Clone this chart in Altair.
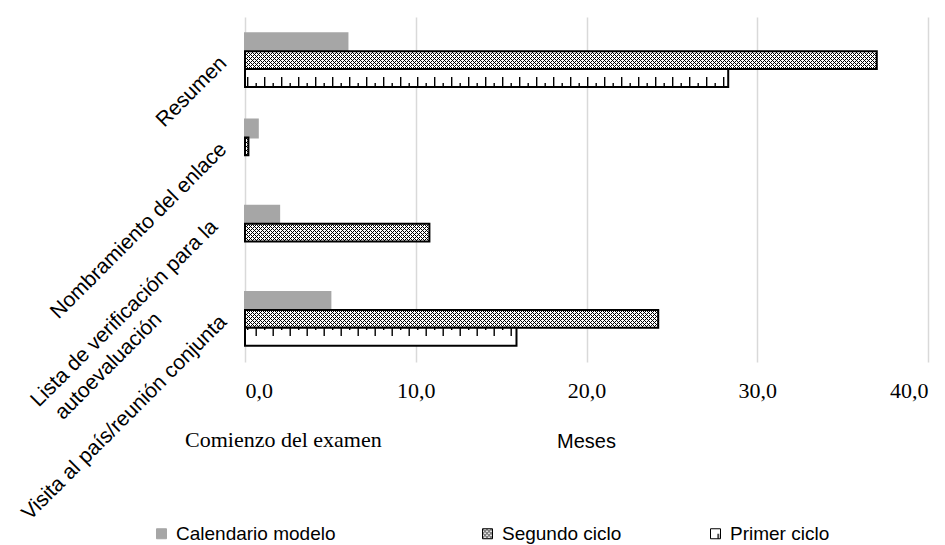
import jinja2
import pandas as pd
import altair as alt

# ---------------- data ----------------
categories = [
    "Resumen",
    "Nombramiento del enlace",
    "Lista de verificación para la autoevaluación",
    "Visita al país/reunión conjunta",
]
series = ["Calendario modelo", "Segundo ciclo", "Primer ciclo"]
calendario_modelo = [6.0, 0.75, 2.0, 5.0]
segundo_ciclo = [37.0, 0.2, 10.8, 24.2]
primer_ciclo = [28.3, None, None, 15.9]
x_ticks = [0, 10, 20, 30, 40]
x_title = "Meses"
note_text = ["Comienzo del examen"]

rows = []
for s, vals in zip(series, [calendario_modelo, segundo_ciclo, primer_ciclo]):
    for c, v in zip(categories, vals):
        rows.append({"categoria": c, "serie": s, "meses": v})
df = pd.DataFrame(rows)

NB = "\u00a0"
ZW = "\u200b"
SANS = "Liberation Sans"
SERIF = "Liberation Serif"

fill_range = ["#a6a6a6", "url(#pdots)", "url(#pvlines)"]
stroke_range = ["#a6a6a6", "#000000", "#000000"]

lista_test = "datum.value == '" + categories[2] + "'"
y_label_expr = (
    lista_test + " ? "
    "['Lista de verificación para la', 'autoevaluación" + NB * 18 + ZW + "'] : datum.value"
)
legend_label_expr = (
    "datum.label == '" + series[0] + "' ? '" + series[0] + NB * 25 + ZW + "' : "
    "datum.label == '" + series[1] + "' ? '" + series[1] + NB * 14 + ZW + "' : datum.label"
)

bars = alt.Chart(df).mark_bar(strokeWidth=2).encode(
    y=alt.Y(
        "categoria:N",
        sort=categories,
        scale=alt.Scale(paddingInner=0.374, paddingOuter=0.187),
        axis=alt.Axis(
            title=None,
            labelAngle=-45,
            labelAlign="right",
            labelBaseline="middle",
            labelFont=SANS,
            labelFontSize=21,
            labelColor="#000000",
            labelPadding={"condition": {"test": lista_test, "value": 31}, "value": 22},
            labelOffset={"condition": {"test": lista_test, "value": -9}, "value": 0},
            labelLimit=600,
            labelLineHeight=26,
            labelExpr=y_label_expr,
            ticks=False,
            tickSize=0,
            domain=False,
            grid=False,
        ),
    ),
    yOffset=alt.YOffset(
        "serie:N", sort=series, scale=alt.Scale(paddingInner=0, paddingOuter=0)
    ),
    x=alt.X(
        "meses:Q",
        scale=alt.Scale(domain=[0, 40], nice=False),
        axis=alt.Axis(
            title=x_title,
            values=x_ticks,
            labelExpr="replace(format(datum.value, '.1f'), '.', ',')",
            labelFont=SERIF,
            labelFontSize=22,
            labelColor="#000000",
            labelPadding=18,
            ticks=False,
            tickSize=0,
            domain=False,
            grid=True,
            gridColor="#d9d9d9",
            gridWidth=1.5,
            titleFont=SANS,
            titleFontSize=20,
            titleFontWeight="normal",
            titleColor="#000000",
            titleX=341,
            titleY=85,
            titleAlign="center",
            titleBaseline="alphabetic",
        ),
    ),
    fill=alt.Fill(
        "serie:N",
        sort=series,
        scale=alt.Scale(domain=series, range=fill_range),
        legend=alt.Legend(
            title=None,
            orient="none",
            legendX=-93,
            legendY=507,
            direction="horizontal",
            columns=3,
            columnPadding=10,
            symbolType="square",
            symbolSize=100,
            symbolStrokeWidth=1,
            labelFont=SANS,
            labelFontSize=19,
            labelColor="#000000",
            labelOffset=5,
            labelLimit=600,
            labelExpr=legend_label_expr,
            padding=0,
        ),
    ),
    stroke=alt.Stroke(
        "serie:N",
        sort=series,
        scale=alt.Scale(domain=series, range=stroke_range),
    ),
)

note = alt.Chart(pd.DataFrame({"t": note_text})).mark_text(
    font=SERIF, fontSize=22, color="#000000", align="left", baseline="alphabetic"
).encode(text="t:N", x=alt.value(-60), y=alt.value(430))

chart = (
    alt.layer(bars, note)
    .properties(
        width=683,
        height=345,
        autosize=alt.AutoSizeParams(type="none"),
        padding={"left": 237, "top": 9, "right": 5, "bottom": 185},
        background="#ffffff",
    )
    .configure_view(stroke=None)
)

TEMPLATE = jinja2.Template("""<!DOCTYPE html>
<html>
<head>
  <style>
    html, body { overflow: hidden; }
    #{{ output_div }}.vega-embed { width: 100%; display: flex; }
    #{{ output_div }}.vega-embed details,
    #{{ output_div }}.vega-embed details summary { position: relative; }
  </style>
  <script type="text/javascript" src="{{ base_url }}/vega@{{ vega_version }}"></script>
  <script type="text/javascript" src="{{ base_url }}/vega-lite@{{ vegalite_version }}"></script>
  <script type="text/javascript" src="{{ base_url }}/vega-embed@{{ vegaembed_version }}"></script>
</head>
<body>
  <svg width="0" height="0" style="position:absolute">
    <defs>
      <pattern id="pdots" patternUnits="userSpaceOnUse" x="0" y="0" width="4" height="4">
        <rect x="0" y="0" width="4" height="4" fill="#ffffff"/>
        <rect x="0" y="0" width="1" height="1" fill="#000000"/>
        <rect x="2" y="0" width="1" height="1" fill="#000000"/>
        <rect x="0" y="2" width="1" height="1" fill="#000000"/>
        <rect x="2" y="2" width="1" height="1" fill="#000000"/>
        <rect x="1" y="1" width="1" height="1" fill="#000000"/>
        <rect x="3" y="3" width="1" height="1" fill="#000000"/>
      </pattern>
      <pattern id="pvlines" patternUnits="userSpaceOnUse" x="0" y="0" width="17" height="60">
        <rect x="0" y="0" width="17" height="60" fill="#ffffff"/>
        <rect x="2" y="0" width="1.4" height="13" fill="#000000"/>
        <rect x="10.5" y="6" width="1.4" height="13" fill="#000000"/>
      </pattern>
    </defs>
  </svg>
  <div id="{{ output_div }}"></div>
  <script>
    (function(vegaEmbed) {
      var spec = {{ spec }};
      var embedOpt = {{ embed_options }};
      function showError(el, error){
        el.innerHTML = ('<div style="color:red;"><p>JavaScript Error: ' + error.message + '</p></div>');
        throw error;
      }
      const el = document.getElementById('{{ output_div }}');
      vegaEmbed("#{{ output_div }}", spec, embedOpt).catch(error => showError(el, error));
    })(vegaEmbed);
  </script>
</body>
</html>
""")

chart.save("out.html", embed_options={"renderer": "svg", "actions": False}, template=TEMPLATE)
